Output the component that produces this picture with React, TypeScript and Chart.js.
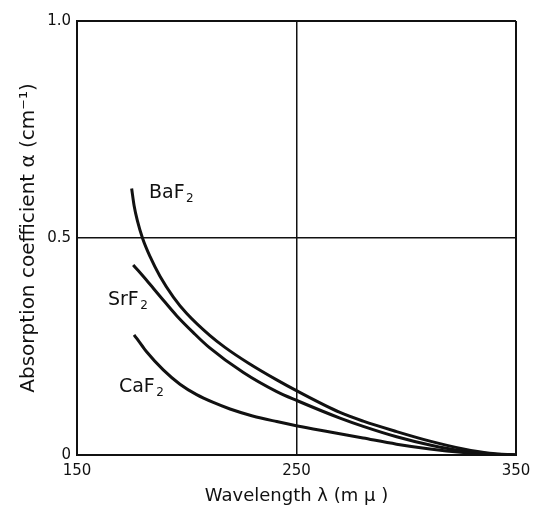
import React, { useEffect, useRef } from "react";
import { Chart, registerables } from "chart.js";

Chart.register(...registerables);

// ---- data ----
const xTickValues = [150, 250, 350];
const yTickValues = [0, 0.5, 1.0];
const yTickLabels = ["0", "0.5", "1.0"];

const baF2Lambda = [174.9, 176.0, 177.5, 179.9, 183.3, 187.8, 193.9, 200.0, 210.6, 217.4, 228.0, 241.0, 250.4, 269.8, 280.4, 295.6, 310.8, 326.0, 338.0, 350.0];
const baF2Alpha = [0.614, 0.575, 0.540, 0.499, 0.457, 0.412, 0.364, 0.326, 0.275, 0.248, 0.212, 0.173, 0.147, 0.098, 0.078, 0.054, 0.032, 0.014, 0.004, 0.0];

const srF2Lambda = [175.6, 181.8, 187.8, 195.4, 203.0, 210.2, 225.8, 241.0, 250.4, 269.8, 280.4, 295.6, 310.8, 326.0, 338.0, 350.0];
const srF2Alpha = [0.438, 0.402, 0.366, 0.321, 0.282, 0.248, 0.190, 0.146, 0.125, 0.085, 0.066, 0.042, 0.023, 0.009, 0.003, 0.0];

const caF2Lambda = [176.0, 179.9, 181.7, 189.3, 196.9, 204.5, 212.1, 219.7, 230.0, 241.0, 250.4, 265.3, 280.4, 295.6, 310.8, 326.0, 338.0, 350.0];
const caF2Alpha = [0.277, 0.250, 0.238, 0.196, 0.163, 0.139, 0.121, 0.106, 0.090, 0.077, 0.067, 0.053, 0.039, 0.025, 0.014, 0.006, 0.002, 0.0];

const seriesNames = ["BaF", "SrF", "CaF"];
const seriesSubscripts = ["2", "2", "2"];
// label anchors (left edge / baseline) in data units
const labelLambda = [182.8, 164.1, 169.1];
const labelAlpha = [0.592, 0.346, 0.145];

const xTitle = "Wavelength λ (m μ )";
const yTitle = "Absorption coefficient α (cm⁻¹)";

const INK = "#111";
const FONT = "DejaVu Sans";

function toPoints(xs: number[], ys: number[]) {
  return xs.map((x, i) => ({ x, y: ys[i] }));
}

const curveLabels = {
  id: "curveLabels",
  afterDatasetsDraw(chart: any) {
    const { ctx, scales } = chart;
    ctx.save();
    ctx.fillStyle = INK;
    ctx.textBaseline = "alphabetic";
    ctx.textAlign = "left";
    seriesNames.forEach((name, i) => {
      const px = scales.x.getPixelForValue(labelLambda[i]);
      const py = scales.y.getPixelForValue(labelAlpha[i]);
      ctx.font = `19px "${FONT}"`;
      ctx.fillText(name, px, py);
      const w = ctx.measureText(name).width;
      ctx.font = `12px "${FONT}"`;
      ctx.fillText(seriesSubscripts[i], px + w + 1.5, py + 4);
    });
    ctx.restore();
  },
};

export default function App() {
  const ref = useRef<HTMLCanvasElement | null>(null);

  useEffect(() => {
    if (!ref.current) return;
    const ds = (xs: number[], ys: number[]) => ({
      data: toPoints(xs, ys),
      borderColor: INK,
      borderWidth: 3,
      pointRadius: 0,
      fill: false,
      cubicInterpolationMode: "monotone" as const,
    });
    const chart = new Chart(ref.current, {
      type: "line",
      data: {
        datasets: [
          ds(baF2Lambda, baF2Alpha),
          ds(srF2Lambda, srF2Alpha),
          ds(caF2Lambda, caF2Alpha),
        ],
      },
      options: {
        animation: false,
        responsive: false,
        devicePixelRatio: 1,
        layout: { padding: { top: 21, right: 17, bottom: 0, left: 0 } },
        plugins: { legend: { display: false }, tooltip: { enabled: false } },
        scales: {
          x: {
            type: "linear",
            min: 150,
            max: 350,
            afterBuildTicks: (s: any) => {
              s.ticks = xTickValues.map((v) => ({ value: v }));
            },
            afterFit: (s: any) => {
              s.height = 51;
              s.paddingLeft = 0;
              s.paddingRight = 0;
            },
            ticks: {
              autoSkip: false,
              maxRotation: 0,
              padding: 7,
              color: INK,
              font: { family: FONT, size: 15 },
              callback: (v: any) => String(v),
            },
            grid: {
              color: INK,
              lineWidth: (c: any) => (c.tick && c.tick.value === 250 ? 1.5 : 2),
              drawTicks: false,
            },
            border: { display: true, color: INK, width: 2 },
            title: {
              display: true,
              text: xTitle,
              color: INK,
              font: { family: FONT, size: 18, lineHeight: 1 },
              padding: { top: 0, bottom: 1 },
            },
          },
          y: {
            type: "linear",
            min: 0,
            max: 1,
            afterBuildTicks: (s: any) => {
              s.ticks = yTickValues.map((v) => ({ value: v }));
            },
            afterFit: (s: any) => {
              s.width = 77;
              s.paddingTop = 0;
              s.paddingBottom = 0;
            },
            ticks: {
              autoSkip: false,
              padding: 6,
              color: INK,
              font: { family: FONT, size: 15 },
              callback: (_v: any, i: number) => yTickLabels[i],
            },
            grid: {
              color: INK,
              lineWidth: (c: any) => (c.tick && c.tick.value === 0.5 ? 1.5 : 2),
              drawTicks: false,
            },
            border: { display: true, color: INK, width: 2 },
            title: {
              display: true,
              text: yTitle,
              color: INK,
              font: { family: FONT, size: 20, lineHeight: 1 },
              padding: { top: 19, bottom: 0 },
            },
          },
        },
      },
      plugins: [curveLabels],
    });
    return () => chart.destroy();
  }, []);

  return (
    <div style={{ position: "absolute", left: 0, top: 0, width: 533, height: 506, background: "#fff" }}>
      <canvas ref={ref} width={533} height={506} style={{ display: "block", width: 533, height: 506 }} />
    </div>
  );
}
